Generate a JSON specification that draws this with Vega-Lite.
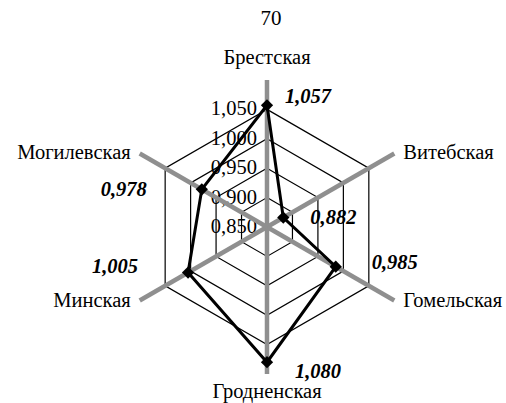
{
  "$schema": "https://vega.github.io/schema/vega-lite/v6.json",
  "width": 506,
  "height": 363,
  "autosize": {"type": "none"},
  "padding": {"left": 0, "right": 0, "top": 40, "bottom": 0},
  "background": "white",
  "title": {"text": "70", "fontSize": 21, "font": "Liberation Serif", "fontWeight": "normal", "color": "black", "anchor": "middle", "frame": "group", "dx": 18, "baseline": "bottom", "offset": -10},
  "config": {
    "view": {"stroke": null},
    "locale": {"number": {"decimal": ",", "thousands": " ", "grouping": [3], "currency": ["", ""]}},
    "text": {"font": "Liberation Serif", "fontSize": 20.5, "color": "black", "baseline": "middle"}
  },
  "datasets": {
    "regions": [
      {"region": "Брестская", "i": 0, "value": 1.057},
      {"region": "Витебская", "i": 1, "value": 0.882},
      {"region": "Гомельская", "i": 2, "value": 0.985},
      {"region": "Гродненская", "i": 3, "value": 1.080},
      {"region": "Минская", "i": 4, "value": 1.005},
      {"region": "Могилевская", "i": 5, "value": 0.978}
    ],
    "rings": [
      {"level": 0.9, "i": 0}, {"level": 0.9, "i": 1}, {"level": 0.9, "i": 2}, {"level": 0.9, "i": 3}, {"level": 0.9, "i": 4}, {"level": 0.9, "i": 5},
      {"level": 0.95, "i": 0}, {"level": 0.95, "i": 1}, {"level": 0.95, "i": 2}, {"level": 0.95, "i": 3}, {"level": 0.95, "i": 4}, {"level": 0.95, "i": 5},
      {"level": 1.0, "i": 0}, {"level": 1.0, "i": 1}, {"level": 1.0, "i": 2}, {"level": 1.0, "i": 3}, {"level": 1.0, "i": 4}, {"level": 1.0, "i": 5},
      {"level": 1.05, "i": 0}, {"level": 1.05, "i": 1}, {"level": 1.05, "i": 2}, {"level": 1.05, "i": 3}, {"level": 1.05, "i": 4}, {"level": 1.05, "i": 5}
    ],
    "ticks": [{"level": 0.85}, {"level": 0.9}, {"level": 0.95}, {"level": 1.0}, {"level": 1.05}]
  },
  "encoding": {
    "x": {"field": "x", "type": "quantitative", "scale": {"domain": [-0.4541, 0.4065], "nice": false, "zero": false}, "axis": null},
    "y": {"field": "y", "type": "quantitative", "scale": {"domain": [-0.2993, 0.3180], "nice": false, "zero": false}, "axis": null}
  },
  "layer": [
    {
      "data": {"name": "ticks"},
      "transform": [{"calculate": "0", "as": "x"}, {"calculate": "datum.level - 0.85", "as": "y"}],
      "mark": {"type": "text", "align": "right", "dx": -10},
      "encoding": {"text": {"field": "level", "type": "quantitative", "format": ".3f"}}
    },
    {
      "data": {"name": "rings"},
      "transform": [
        {"calculate": "(datum.level - 0.85) * sin(datum.i * PI / 3)", "as": "x"},
        {"calculate": "(datum.level - 0.85) * cos(datum.i * PI / 3)", "as": "y"}
      ],
      "mark": {"type": "line", "interpolate": "linear-closed", "color": "black", "strokeWidth": 1.2},
      "encoding": {"detail": {"field": "level", "type": "nominal"}, "order": {"field": "i", "type": "quantitative"}}
    },
    {
      "data": {"name": "regions"},
      "transform": [
        {"calculate": "0.25 * sin(datum.i * PI / 3)", "as": "x"},
        {"calculate": "0.25 * cos(datum.i * PI / 3)", "as": "y"},
        {"calculate": "0", "as": "x0"},
        {"calculate": "0", "as": "y0"}
      ],
      "mark": {"type": "rule", "color": "#8f8f8f", "strokeWidth": 4.5},
      "encoding": {"x2": {"field": "x0"}, "y2": {"field": "y0"}}
    },
    {
      "data": {"name": "regions"},
      "transform": [
        {"calculate": "(datum.value - 0.85) * sin(datum.i * PI / 3)", "as": "x"},
        {"calculate": "(datum.value - 0.85) * cos(datum.i * PI / 3)", "as": "y"}
      ],
      "layer": [
        {"mark": {"type": "line", "interpolate": "linear-closed", "color": "black", "strokeWidth": 3}, "encoding": {"order": {"field": "i", "type": "quantitative"}}},
        {"mark": {"type": "point", "shape": "diamond", "filled": true, "color": "black", "size": 150, "opacity": 1}},
        {"transform": [{"filter": "datum.i == 0"}], "mark": {"type": "text", "align": "left", "dx": 18, "dy": -8, "fontWeight": "bold", "fontStyle": "italic"}, "encoding": {"text": {"field": "value", "type": "quantitative", "format": ".3f"}}},
        {"transform": [{"filter": "datum.i == 1"}], "mark": {"type": "text", "align": "left", "dx": 27, "dy": 0, "fontWeight": "bold", "fontStyle": "italic"}, "encoding": {"text": {"field": "value", "type": "quantitative", "format": ".3f"}}},
        {"transform": [{"filter": "datum.i == 2"}], "mark": {"type": "text", "align": "left", "dx": 36, "dy": -4, "fontWeight": "bold", "fontStyle": "italic"}, "encoding": {"text": {"field": "value", "type": "quantitative", "format": ".3f"}}},
        {"transform": [{"filter": "datum.i == 3"}], "mark": {"type": "text", "align": "left", "dx": 28, "dy": 10, "fontWeight": "bold", "fontStyle": "italic"}, "encoding": {"text": {"field": "value", "type": "quantitative", "format": ".3f"}}},
        {"transform": [{"filter": "datum.i == 4"}], "mark": {"type": "text", "align": "right", "dx": -50, "dy": -6, "fontWeight": "bold", "fontStyle": "italic"}, "encoding": {"text": {"field": "value", "type": "quantitative", "format": ".3f"}}},
        {"transform": [{"filter": "datum.i == 5"}], "mark": {"type": "text", "align": "right", "dx": -55, "dy": 1, "fontWeight": "bold", "fontStyle": "italic"}, "encoding": {"text": {"field": "value", "type": "quantitative", "format": ".3f"}}}
      ]
    },
    {
      "data": {"name": "regions"},
      "transform": [
        {"calculate": "0.25 * sin(datum.i * PI / 3)", "as": "x"},
        {"calculate": "0.25 * cos(datum.i * PI / 3)", "as": "y"}
      ],
      "layer": [
        {"transform": [{"filter": "datum.i == 0"}], "mark": {"type": "text", "align": "center", "dy": -22}, "encoding": {"text": {"field": "region"}}},
        {"transform": [{"filter": "datum.i == 3"}], "mark": {"type": "text", "align": "center", "dy": 18}, "encoding": {"text": {"field": "region"}}},
        {"transform": [{"filter": "datum.i == 1 || datum.i == 2"}], "mark": {"type": "text", "align": "left", "dx": 9}, "encoding": {"text": {"field": "region"}}},
        {"transform": [{"filter": "datum.i == 4 || datum.i == 5"}], "mark": {"type": "text", "align": "right", "dx": -9}, "encoding": {"text": {"field": "region"}}}
      ]
    }
  ]
}
